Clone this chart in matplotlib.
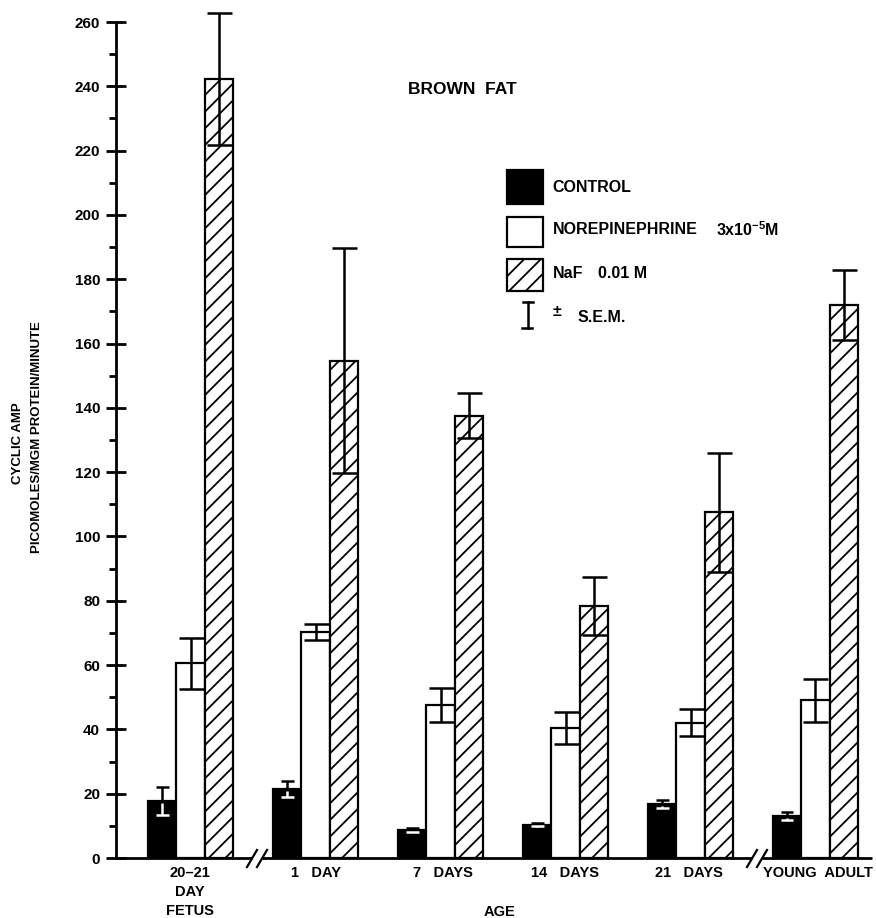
import matplotlib
matplotlib.use("Agg")
import matplotlib.pyplot as plt
from matplotlib.patches import Rectangle
from matplotlib.lines import Line2D
import numpy as np

plt.rcParams['font.family'] = ['Liberation Sans', 'DejaVu Sans']
plt.rcParams['font.weight'] = 'bold'
plt.rcParams['hatch.linewidth'] = 1.3
plt.rcParams['mathtext.default'] = 'regular'

# ---------------- data ----------------
groups = ["20\u201321\nDAY\nFETUS", "1   DAY", "7   DAYS", "14   DAYS", "21   DAYS", "YOUNG  ADULT"]
control = [17.7, 21.5, 8.7, 10.3, 16.7, 13.1]
control_sem = [4.3, 2.5, 0.5, 0.5, 1.2, 1.2]
norepinephrine = [60.5, 70.3, 47.6, 40.4, 42.0, 49.0]
norepinephrine_sem = [8.0, 2.5, 5.3, 5.0, 4.2, 6.8]
naf = [242.4, 154.7, 137.5, 78.5, 107.5, 172.0]
naf_sem = [20.5, 35.0, 7.0, 9.0, 18.6, 11.0]
yticks = list(range(0, 261, 20))

W, H = 876, 918
fig = plt.figure(figsize=(W / 100, H / 100), dpi=100)

def fx(px):
    return px / W

def fy(py):
    return 1 - py / H

ax_left, ax_right, ax_bottom, ax_top = 116, 872, 858, 22
ax = fig.add_axes([fx(ax_left), fy(ax_bottom), fx(ax_right) - fx(ax_left), fy(ax_top) - fy(ax_bottom)])

px_per_group = 125.0
c0 = 190.5
xmin = (ax_left - c0) / px_per_group
xmax = (ax_right - c0) / px_per_group
ax.set_xlim(xmin, xmax)
ax.set_ylim(0, 260)

x = np.arange(len(groups))
bw = 28.5 / px_per_group

lw = 1.6
ax.bar(x - bw, control, bw, color='black', edgecolor='black', linewidth=lw, zorder=2)
ax.bar(x, norepinephrine, bw, color='white', edgecolor='black', linewidth=lw, zorder=2)
ax.bar(x + bw, naf, bw, color='white', edgecolor='black', hatch='//', linewidth=lw, zorder=2)

eb_kw = dict(fmt='none', elinewidth=1.8, capthick=1.8, capsize=9, zorder=4, clip_on=False)
# control: upper part black, lower part (inside the black bar) white
ctrl = np.array(control)
csem = np.array(control_sem)
cap = 6.5 / px_per_group
xc = x - bw
ax.vlines(xc, ctrl, ctrl + csem, color='black', lw=1.8, zorder=4)
ax.hlines(ctrl + csem, xc - cap, xc + cap, color='black', lw=1.8, zorder=4)
ax.vlines(xc, ctrl - csem, ctrl - 0.6, color='white', lw=1.8, zorder=4)
ax.hlines(ctrl - csem, xc - cap, xc + cap, color='white', lw=1.8, zorder=4)
ax.errorbar(x, norepinephrine, yerr=norepinephrine_sem, ecolor='black', **eb_kw)
ax.errorbar(x + bw, naf, yerr=naf_sem, ecolor='black', **eb_kw)

# axes styling
for s in ['top', 'right', 'bottom']:
    ax.spines[s].set_visible(False)
ax.spines['left'].set_linewidth(2)
ax.set_yticks(yticks)
ax.set_yticks(range(10, 260, 20), minor=True)
ax.tick_params(axis='y', which='major', direction='inout', length=15, width=2, labelsize=11, pad=4)
ax.tick_params(axis='y', which='minor', direction='out', length=5, width=2)
ax.set_xticks([])

# x axis line with breaks
ypx = 1 / 3.215
breaks = [(257 - c0) / px_per_group, (757 - c0) / px_per_group]
gap = 5 / px_per_group
segs = [(xmin, breaks[0] - gap), (breaks[0] + gap, breaks[1] - gap), (breaks[1] + gap, xmax)]
for a, b in segs:
    ax.plot([a, b], [0, 0], color='black', lw=2, clip_on=False, zorder=5, solid_capstyle='butt')
for xb in breaks:
    for off in (-gap, gap):
        ax.plot([xb + off - 5 / px_per_group, xb + off + 5 / px_per_group],
                [-9 * ypx, 8 * ypx], color='black', lw=1.6, clip_on=False, zorder=5)

# x labels
label_px = [190, 316, 443, 565, 689, 818]
for i, (lab, lp) in enumerate(zip(groups, label_px)):
    xd = (lp - c0) / px_per_group
    if '\n' in lab:
        ax.text(xd, (858 - 866) * ypx, lab, ha='center', va='top', fontsize=10.5,
                fontweight='bold', linespacing=1.45)
    else:
        ax.text(xd, (858 - 873) * ypx, lab, ha='center', va='center', fontsize=10.5,
                fontweight='bold')

fig.text(fx(500), fy(912), "AGE", ha='center', va='center', fontsize=10.5, fontweight='bold')

# y label
fig.text(fx(18), fy(443), "CYCLIC AMP", rotation=90, ha='center', va='center', fontsize=9.5, fontweight='bold')
fig.text(fx(37), fy(437), "PICOMOLES/MGM PROTEIN/MINUTE", rotation=90, ha='center', va='center',
         fontsize=9.5, fontweight='bold')

# title
fig.text(fx(462), fy(90), "BROWN  FAT", ha='center', va='center', fontsize=12.5, fontweight='bold')

# legend
def rect(x0, y0, x1, y1, **kw):
    r = Rectangle((fx(x0), fy(y1)), fx(x1) - fx(x0), fy(y0) - fy(y1), transform=fig.transFigure,
                  linewidth=1.6, edgecolor='black', **kw)
    fig.add_artist(r)

rect(507, 170, 543, 204, facecolor='black')
rect(507, 217, 543, 247, facecolor='white')
rect(507, 259, 543, 291, facecolor='white', hatch='//')
fig.add_artist(Line2D([fx(528), fx(528)], [fy(302), fy(328)], color='black', lw=1.8, transform=fig.transFigure))
fig.add_artist(Line2D([fx(523), fx(533)], [fy(302), fy(302)], color='black', lw=1.8, transform=fig.transFigure))
fig.add_artist(Line2D([fx(522), fx(532)], [fy(328), fy(328)], color='black', lw=1.8, transform=fig.transFigure))

lfs = 11.5
fig.text(fx(552), fy(187), "CONTROL", ha='left', va='center', fontsize=lfs, fontweight='bold')
fig.text(fx(553), fy(230), "NOREPINEPHRINE", ha='left', va='center', fontsize=lfs, fontweight='bold')
fig.text(fx(716), fy(230), r"3x10$^{-5}$M", ha='left', va='center', fontsize=lfs, fontweight='bold')
fig.text(fx(553), fy(274), "NaF", ha='left', va='center', fontsize=lfs, fontweight='bold')
fig.text(fx(598), fy(274), "0.01 M", ha='left', va='center', fontsize=lfs, fontweight='bold')
fig.text(fx(553), fy(311), "\u00b1", ha='left', va='center', fontsize=lfs, fontweight='bold')
fig.text(fx(578), fy(317), "S.E.M.", ha='left', va='center', fontsize=lfs, fontweight='bold')

fig.savefig("out.png", dpi=100)
